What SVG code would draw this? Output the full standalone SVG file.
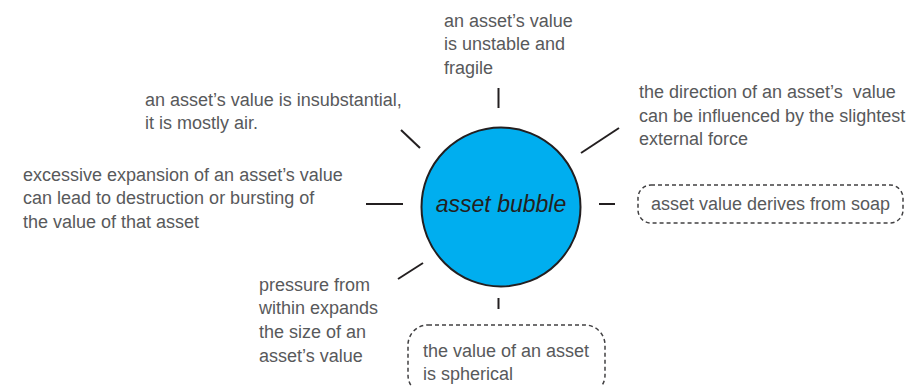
<svg xmlns="http://www.w3.org/2000/svg" width="919" height="386" viewBox="0 0 919 386">
  <style>
    .label { font-family: "Liberation Sans", Arial, sans-serif; font-size: 18px; fill: #58595b; }
    .core { font-family: "Liberation Sans", Arial, sans-serif; font-size: 23px; font-style: italic; fill: #231f20; }
    .spoke { stroke: #231f20; stroke-width: 2; stroke-linecap: butt; fill: none; }
    .dashed { fill: none; stroke: #414042; stroke-width: 1.5; stroke-dasharray: 4 3; }
  </style>
  <rect width="919" height="386" fill="#ffffff"/>

  <!-- spokes radiating from the bubble -->
  <g id="connectors">
    <line class="spoke" x1="498.5" y1="88" x2="498.5" y2="108"/>
    <line class="spoke" x1="401" y1="130" x2="420" y2="148"/>
    <line class="spoke" x1="581" y1="153" x2="619" y2="128"/>
    <line class="spoke" x1="366" y1="204" x2="403" y2="204"/>
    <line class="spoke" x1="599" y1="204" x2="615" y2="204"/>
    <line class="spoke" x1="398" y1="279" x2="423" y2="263"/>
    <line class="spoke" x1="498.5" y1="298" x2="498.5" y2="309"/>
  </g>

  <g id="bubble">
    <circle cx="501" cy="207" r="79.5" fill="#00aeef" stroke="#231f20" stroke-width="2"/>
    <text class="core" x="501" y="212" text-anchor="middle">asset bubble</text>
  </g>

  <g id="unstable">
    <text class="label" x="444" y="27">an asset’s value</text>
    <text class="label" x="444" y="50.3">is unstable and</text>
    <text class="label" x="444" y="73.6">fragile</text>
  </g>

  <g id="insubstantial">
    <text class="label" x="145" y="106">an asset’s value is insubstantial,</text>
    <text class="label" x="145" y="129.3">it is mostly air.</text>
  </g>

  <g id="direction">
    <text class="label" x="639" y="98.3" xml:space="preserve">the direction of an asset’s  value</text>
    <text class="label" x="639" y="121.6">can be influenced by the slightest</text>
    <text class="label" x="639" y="145">external force</text>
  </g>

  <g id="expansion">
    <text class="label" x="23" y="180.7">excessive expansion of an asset’s value</text>
    <text class="label" x="23" y="204.3">can lead to destruction or bursting of</text>
    <text class="label" x="23" y="228">the value of that asset</text>
  </g>

  <g id="soap">
    <rect class="dashed" x="638" y="185" width="265" height="38" rx="13" ry="13"/>
    <text class="label" x="651" y="210">asset value derives from soap</text>
  </g>

  <g id="pressure">
    <text class="label" x="259" y="290.7">pressure from</text>
    <text class="label" x="259" y="314.2">within expands</text>
    <text class="label" x="259" y="338">the size of an</text>
    <text class="label" x="259" y="361.7">asset’s value</text>
  </g>

  <g id="spherical">
    <rect class="dashed" x="408" y="325" width="197" height="70" rx="20" ry="20"/>
    <text class="label" x="423" y="356.7">the value of an asset</text>
    <text class="label" x="423" y="380">is spherical</text>
  </g>
</svg>
